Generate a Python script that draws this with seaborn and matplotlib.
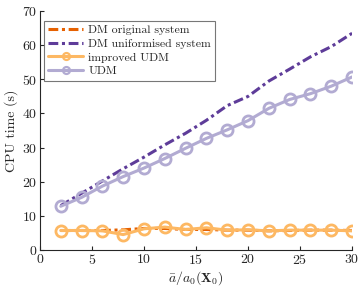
import pandas as pd
import matplotlib.pyplot as plt
import seaborn as sns

# Data
x_vals = [2, 4, 6, 8, 10, 12, 14, 16, 18, 20, 22, 24, 26, 28, 30]
dm_original = [5.7, 5.7, 5.7, 5.9, 6.3, 6.3, 6.0, 6.0, 5.8, 5.8, 5.6, 5.7, 5.8, 5.8, 5.7]
dm_uniformised = [13.0, 16.6, 20.2, 23.8, 27.2, 30.8, 34.2, 38.0, 42.3, 45.0, 49.5, 53.0, 56.6, 59.6, 63.5]
improved_udm = [5.7, 5.7, 5.6, 4.5, 6.2, 6.7, 6.0, 6.5, 5.8, 5.9, 5.6, 5.8, 5.8, 5.8, 5.6]
udm = [12.8, 15.4, 18.7, 21.5, 24.0, 26.8, 29.8, 32.7, 35.2, 37.9, 41.5, 44.1, 45.8, 48.0, 50.7]

series_names = ["DM original system", "DM uniformised system", "improved UDM", "UDM"]
series_vals = [dm_original, dm_uniformised, improved_udm, udm]
colors = ["#e66101", "#5e3c99", "#fdb863", "#b2abd2"]

sns.set_style("white")
plt.rcParams['font.family'] = 'serif'
plt.rcParams['font.serif'] = ['cmr10', 'DejaVu Serif']
plt.rcParams['mathtext.fontset'] = 'cm'
plt.rcParams['axes.formatter.use_mathtext'] = True

fig = plt.figure(figsize=(3.63, 2.92), dpi=100)
ax = fig.add_axes([0.110, 0.144, 0.860, 0.818])

for name, vals, c in zip(series_names, series_vals, colors):
    df = pd.DataFrame({"x": x_vals, "y": vals})
    if name.startswith("DM"):
        sns.lineplot(data=df, x="x", y="y", ax=ax, color=c, label=name,
                     linestyle=(0, (3.2, 1.2, 1, 1.2)), linewidth=2.2)
    else:
        sns.lineplot(data=df, x="x", y="y", ax=ax, color=c, label=name,
                     linewidth=2.2, marker="o", markersize=8,
                     markerfacecolor="none", markeredgecolor=c, markeredgewidth=2)

ax.set_xlim(0, 30)
ax.set_ylim(0, 70)
ax.set_xticks(range(0, 31, 5))
ax.set_yticks(range(0, 71, 10))
ax.set_xlabel(r"$\bar{a}/a_0(\mathbf{X}_0)$", fontsize=10, labelpad=2)
ax.set_ylabel("CPU time (s)", fontsize=10, labelpad=3)
ax.tick_params(direction="in", length=3, width=0.8, labelsize=10, pad=2,
               left=True, bottom=True)
for s in ["top", "right"]:
    ax.spines[s].set_visible(False)
for s in ["left", "bottom"]:
    ax.spines[s].set_color("#262626")
    ax.spines[s].set_linewidth(0.8)

leg = ax.legend(loc="upper left", bbox_to_anchor=(0.005, 0.97), fontsize=8.5,
                frameon=True, fancybox=False, handlelength=3.0, borderpad=0.35,
                labelspacing=0.3, handletextpad=0.4, borderaxespad=0.2)
leg.get_frame().set_edgecolor("#555555")
leg.get_frame().set_linewidth(0.8)
for h in leg.get_lines():
    h.set_markersize(5)
    h.set_markeredgewidth(1.6)

fig.savefig("out.png", dpi=100)
